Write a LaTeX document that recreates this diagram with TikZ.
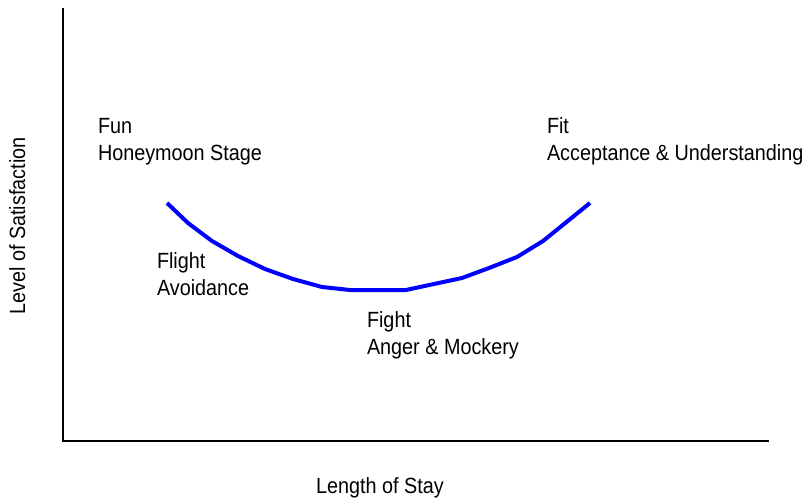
\documentclass[tikz,border=0pt]{standalone}
\usepackage{fontspec}
\setmainfont{Liberation Sans}
\newcommand\narrowtxt[1]{\scalebox{0.9}[1]{#1}}
\begin{document}
\begin{tikzpicture}[x=1pt,y=-1pt,
  lbl/.style={inner sep=0pt,outer sep=0pt,font=\fontsize{22}{28}\selectfont},
  axis/.style={line width=2pt,black},
  curve/.style={line width=4pt,blue}]
\useasboundingbox (0,0) rectangle (812,499);
\coordinate (ytop) at (63,8);
\coordinate (origin) at (63,441);
\coordinate (xend) at (769,441);
\draw[axis] (ytop) -- (origin) -- (xend);
\draw[curve] (167,203) -- (188,223) -- (212,241) -- (238,256) -- (265,269) -- (293,279) -- (322,287) -- (350,290) -- (378,290) -- (406,290) -- (434,284) -- (462,278) -- (489,268) -- (517,257) -- (543,241) -- (590,203);
\node[lbl,anchor=base west] (fun) at (98,133) {\narrowtxt{Fun}};
\node[lbl,anchor=base west] (honey) at (98,160) {\narrowtxt{Honeymoon Stage}};
\node[lbl,anchor=base west] (fit) at (547,133) {\narrowtxt{Fit}};
\node[lbl,anchor=base west] (accept) at (547,160) {\narrowtxt{Acceptance \& Understanding}};
\node[lbl,anchor=base west] (flight) at (157,268) {\narrowtxt{Flight}};
\node[lbl,anchor=base west] (avoid) at (157,295) {\narrowtxt{Avoidance}};
\node[lbl,anchor=base west] (fight) at (367,327) {\narrowtxt{Fight}};
\node[lbl,anchor=base west] (anger) at (367,354) {\narrowtxt{Anger \& Mockery}};
\node[lbl,anchor=base] (xlabel) at (380,493) {\narrowtxt{Length of Stay}};
\node[lbl,anchor=base,rotate=90] (ylabel) at (25,226) {\narrowtxt{Level of Satisfaction}};
\end{tikzpicture}
\end{document}
